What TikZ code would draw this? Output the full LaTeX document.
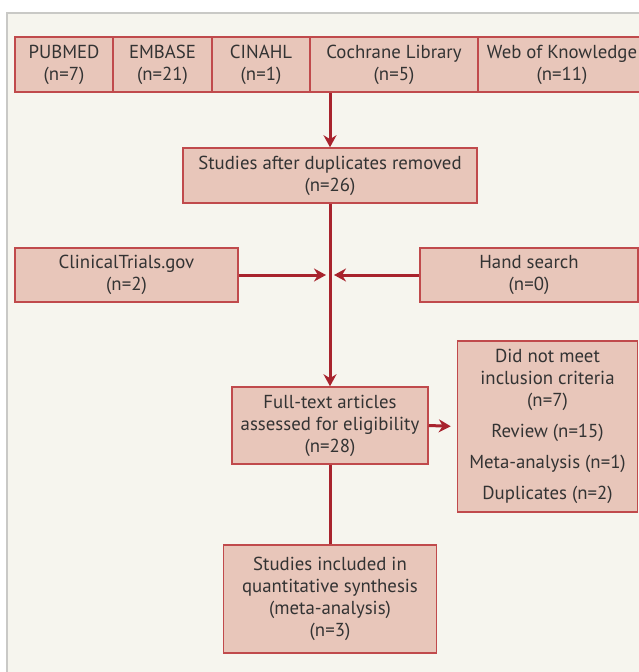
\documentclass[tikz,border=0pt]{standalone}
\usepackage{fontspec}
\setmainfont{PT Sans}
\usetikzlibrary{arrows.meta}
\definecolor{paper}{HTML}{F6F5EE}
\definecolor{frame}{HTML}{C9C9C6}
\definecolor{boxfill}{HTML}{E8C6BA}
\definecolor{boxline}{HTML}{C04A4C}
\definecolor{arr}{HTML}{A8232D}
\definecolor{txt}{HTML}{333333}
\begin{document}
\begin{tikzpicture}[x=1pt,y=-1pt,>={Stealth[length=12pt,width=13pt]},
box/.style={draw=boxline,line width=1.5pt,fill=boxfill,text=txt,align=center,inner sep=0pt,font=\fontsize{18.8}{22}\selectfont},
link/.style={draw=arr,line width=3pt}]
\useasboundingbox (0,0) rectangle (638,672);
\fill[paper] (7,13) rectangle (660,690);
\draw[frame,line width=2pt] (7,690)--(7,13)--(660,13);
\path(64,64.5)node[box,minimum width=98,minimum height=55](pub){PUBMED\\(n=7)}
++(98.5,0)node[box,minimum width=99,minimum height=55](emb){EMBASE\\(n=21)}
++(98.5,0)node[box,minimum width=98,minimum height=55](cin){CINAHL\\(n=1)}
++(133,0)node[box,minimum width=168,minimum height=55](coc){Cochrane Library\\(n=5)}
++(168,0)node[box,minimum width=168,minimum height=55](web){Web of Knowledge\\(n=11)}
(330,175.5)node[box,minimum width=294,minimum height=55](dup){Studies after duplicates removed\\(n=26)}
(126.5,275)node[box,minimum width=223,minimum height=54](ct){ClinicalTrials.gov\\(n=2)}
(529,275)node[box,minimum width=218,minimum height=54](hs){Hand search\\(n=0)}
(330,425.5)node[box,minimum width=196,minimum height=77](ft){Full-text articles\\assessed for eligibility\\(n=28)}
(547.5,426.5)node[box,minimum width=180,minimum height=171](ex){Did not meet\\inclusion criteria\\(n=7)\\[9pt]Review (n=15)\\[9pt]Meta-analysis (n=1)\\[9pt]Duplicates (n=2)}
(330,599)node[box,minimum width=213,minimum height=108](inc){Studies included in\\quantitative synthesis\\(meta-analysis)\\(n=3)}
;
\coordinate (m) at (dup.south |- ct.east);
\draw[link,->] (dup.north |- coc.south) -- (dup.north);
\draw[link,->] (dup.south) -- (ft.north);
\draw[link,->,shorten >=4pt] (ct.east) -- (m);
\draw[link,->,shorten >=4pt] (hs.west) -- (m);
\draw[link,->,shorten >=6pt] (ft.east) -- (ex.west);
\draw[link] (ft.south) -- (inc.north);
\end{tikzpicture}
\end{document}
